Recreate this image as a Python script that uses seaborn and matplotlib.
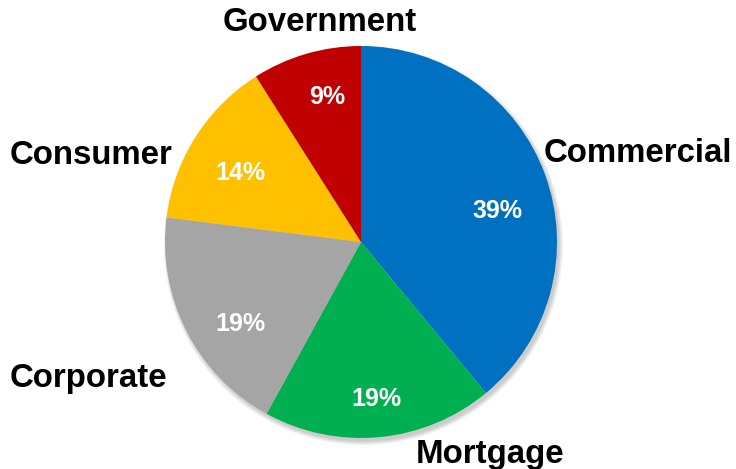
import matplotlib
matplotlib.use("Agg")
import matplotlib.pyplot as plt
import matplotlib.patches as mpatches
import seaborn as sns

# Loan portfolio mix by segment
segments = ["Commercial", "Mortgage", "Corporate", "Consumer", "Government"]
shares = [39, 19, 19, 14, 9]
colors = ["#0070C0", "#00B050", "#A5A5A5", "#FFC000", "#C00000"]

# Label placement (data units of a unit-radius pie)
name_pos = [(1.413, 0.450), (0.658, -1.082), (-1.393, -0.698),
            (-1.378, 0.440), (-0.209, 1.122)]
pct_pos = [(0.694, 0.160), (0.077, -0.800), (-0.617, -0.416),
           (-0.617, 0.354), (-0.173, 0.742)]

sns.set_theme(style="white")
plt.rcParams["font.family"] = ["Liberation Sans", "DejaVu Sans"]

W, H = 736, 469
fig = plt.figure(figsize=(W / 100, H / 100), dpi=100)
cx, cy, r = 361, 242, 196
ax = fig.add_axes([(cx - r) / W, (H - cy - r) / H, 2 * r / W, 2 * r / H])

# soft drop shadow under the pie
for i, a in enumerate([0.05, 0.05, 0.05, 0.06]):
    ax.add_patch(mpatches.Circle((0.012, -0.018), 1.0 + 0.006 * (3 - i),
                                 color="black", alpha=a, lw=0, zorder=0,
                                 clip_on=False))

ax.pie(shares, colors=colors, startangle=90, counterclock=False,
       radius=1.0, center=(0, 0), frame=True,
       wedgeprops=dict(linewidth=0))
ax.set_xlim(-1, 1)
ax.set_ylim(-1, 1)
ax.set_aspect("equal")
ax.axis("off")

for name, v, (nx, ny), (px, py) in zip(segments, shares, name_pos, pct_pos):
    ax.text(nx, ny, name, ha="center", va="center", fontsize=23.8,
            fontweight="bold", color="black", clip_on=False)
    ax.text(px, py, f"{v}%", ha="center", va="center", fontsize=18,
            fontweight="bold", color="white")

fig.savefig("out.png", dpi=100, facecolor="white")
